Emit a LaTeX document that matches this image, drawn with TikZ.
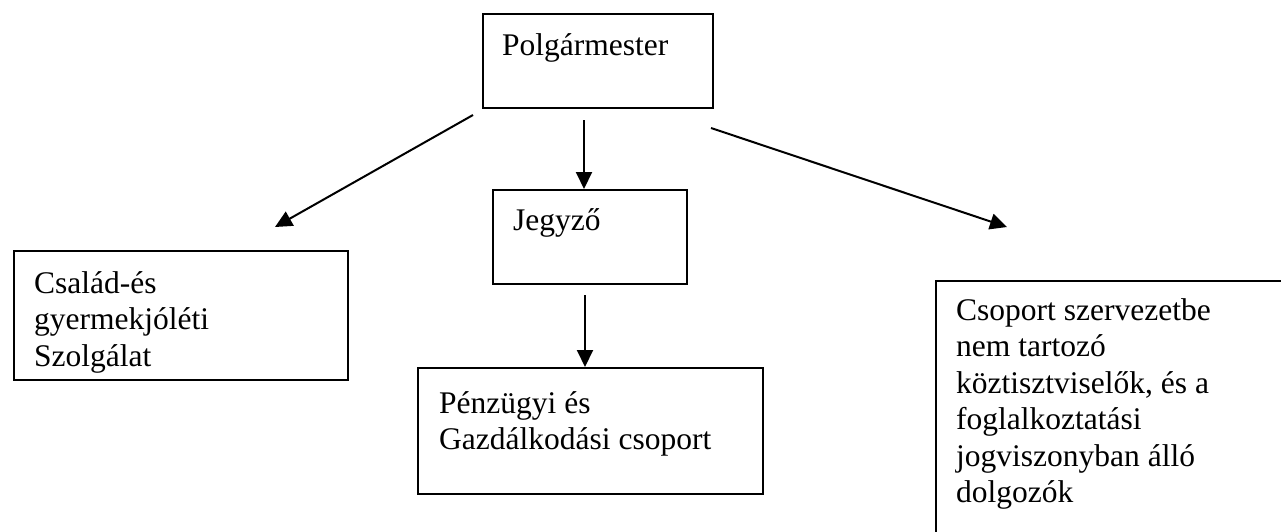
\documentclass[tikz,border=0pt]{standalone}
\usepackage{fontspec}
\setmainfont{Liberation Serif}
\usetikzlibrary{arrows.meta,calc}
\begin{document}
\begin{tikzpicture}[x=1pt,y=-1pt,
  box/.style={draw, line width=2.2pt, inner sep=0pt, anchor=north west},
  lbl/.style={inner sep=0pt, anchor=base west, font=\fontsize{31.5}{36.5}\selectfont},
  arr/.style={line width=2pt, -{Triangle[length=17pt,width=16pt]}}]
\useasboundingbox (0,0) rectangle (1281,531);
% boxes
\node[box, minimum width=230pt, minimum height=94pt] (pm) at (482,13) {};
\node[box, minimum width=194pt, minimum height=94pt] (jg) at (492,189) {};
\node[box, minimum width=334pt, minimum height=129pt] (cs) at (13,250) {};
\node[box, minimum width=345pt, minimum height=126pt] (pz) at (417,367) {};
\node[box, minimum width=360pt, minimum height=262pt] (mu) at (935,280) {};
% texts
\node[lbl] (tpm) at (502,55) {Polgármester};
\node[lbl] (tjg) at (513,230) {Jegyző};
\node[lbl] (tcs) at (34,293) {\parbox[t]{300pt}{Család-és\\gyermekjóléti\\Szolgálat}};
\node[lbl] (tpz) at (439,413) {\parbox[t]{320pt}{Pénzügyi és\\Gazdálkodási csoport}};
\node[lbl] (tmu) at (956,320) {\parbox[t]{320pt}{Csoport szervezetbe\\nem tartozó\\köztisztviselők, és a\\foglalkoztatási\\jogviszonyban álló\\dolgozók}};
% connectors
\draw[arr] ($(pm.south west)+(102,11)$) -- ($(jg.north west)+(92,0)$);
\draw[arr] ($(jg.south west)+(93,10)$) -- ($(pz.north west)+(168,0)$);
\coordinate (lS) at (473,115);
\coordinate (lE) at (275,227);
\coordinate (rS) at (711,128);
\coordinate (rE) at (1007,227);
\draw[arr] (lS) -- (lE);
\draw[arr] (rS) -- (rE);
\end{tikzpicture}
\end{document}
